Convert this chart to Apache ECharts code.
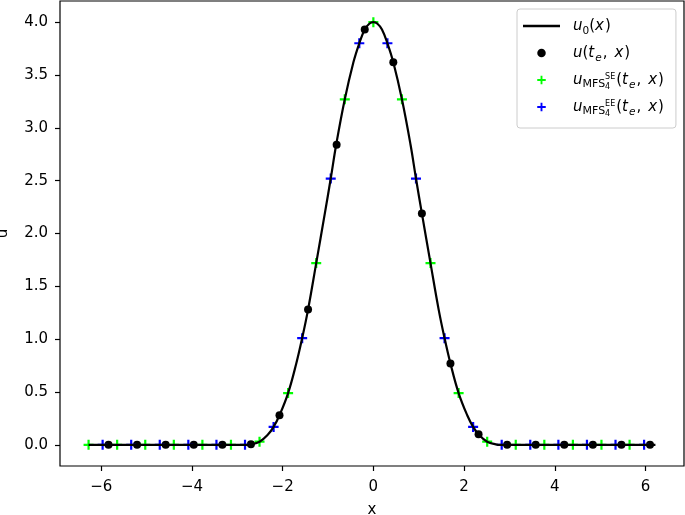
<!DOCTYPE html>
<html>
<head>
<meta charset="utf-8">
<script src="https://cdn.jsdelivr.net/npm/echarts@6/dist/echarts.min.js"></script>
<style>
  html, body { margin: 0; padding: 0; background: #fff; }
  #chart { width: 685px; height: 515px; }
</style>
</head>
<body>
<div id="chart"></div>
<script>
// u0(x)
const curveX = [-6.28, -3.14, -2.83, -2.70, -2.51, -2.32, -2.20, -2.07, -1.88, -1.70, -1.57, -1.44, -1.26, -1.07, -0.94, -0.82, -0.63, -0.44, -0.31, -0.19, -0.09, 0,
  0.09, 0.19, 0.31, 0.44, 0.63, 0.82, 0.94, 1.07, 1.26, 1.44, 1.57, 1.70, 1.88, 2.07, 2.20, 2.32, 2.51, 2.70, 2.83, 3.14, 6.22]
const curveY = [0, 0, 0, 0.005, 0.03, 0.10, 0.17, 0.28, 0.49, 0.77, 1.01, 1.28, 1.72, 2.19, 2.52, 2.84, 3.27, 3.62, 3.80, 3.93, 3.985, 4.0,
  3.985, 3.93, 3.80, 3.62, 3.27, 2.84, 2.52, 2.19, 1.72, 1.28, 1.01, 0.77, 0.49, 0.28, 0.17, 0.10, 0.03, 0.005, 0, 0, 0]

// u(t_e, x)
const exactX = [-5.84, -5.21, -4.58, -3.96, -3.33, -2.70, -2.07, -1.44, -0.81, -0.19, 0.44, 1.07, 1.70, 2.32, 2.95, 3.58, 4.21, 4.84, 5.47, 6.10]
const exactY = [0, 0, 0, 0, 0, 0.005, 0.28, 1.28, 2.84, 3.93, 3.62, 2.19, 0.77, 0.10, 0, 0, 0, 0, 0, 0]

// MFS_4^SE
const seX = [-6.28, -5.65, -5.03, -4.40, -3.77, -3.14, -2.51, -1.88, -1.26, -0.63, 0, 0.63, 1.26, 1.88, 2.51, 3.14, 3.77, 4.40, 5.03, 5.65]
const seY = [0, 0, 0, 0, 0, 0, 0.03, 0.49, 1.72, 3.27, 4.0, 3.27, 1.72, 0.49, 0.03, 0, 0, 0, 0, 0]

// MFS_4^EE
const eeX = [-5.97, -5.34, -4.71, -4.08, -3.46, -2.83, -2.20, -1.57, -0.94, -0.31, 0.31, 0.94, 1.57, 2.20, 2.83, 3.46, 4.08, 4.71, 5.34, 5.97]
const eeY = [0, 0, 0, 0, 0, 0, 0.17, 1.01, 2.52, 3.80, 3.80, 2.52, 1.01, 0.17, 0, 0, 0, 0, 0, 0]

const xTicks = [-6, -4, -2, 0, 2, 4, 6]
const yTicks = [0, 0.5, 1, 1.5, 2, 2.5, 3, 3.5, 4]

const FONT = 'DejaVu Sans'
const PLUS = 'path://M3.9,0H6.1V3.9H10V6.1H6.1V10H3.9V6.1H0V3.9H3.9Z'

function zip (xs, ys) {
  return xs.map((x, i) => [x, ys[i]])
}

const legendText = {
  u0: '{a|u}{s|0}{r|(}{i|x}{r|)}',
  u: '{a|u}{r|(}{i|t}{si|e}{c|,}{i|x}{r|)}',
  se: '{a|u}{sm|MFS}{dn|4}{up|SE}{r|(}{i|t}{si|e}{c|,}{i|x}{r|)}',
  ee: '{a|u}{sm|MFS}{dn|4}{up|EE}{r|(}{i|t}{si|e}{c|,}{i|x}{r|)}'
}

const chart = echarts.init(document.getElementById('chart'), null, { renderer: 'canvas' })

const option = {
  animation: false,
  textStyle: { fontFamily: FONT },
  grid: {
    left: 60,
    right: 1,
    top: 1,
    bottom: 49,
    outerBoundsMode: 'none',
    containLabel: false,
    show: true,
    borderColor: '#000',
    borderWidth: 1.2
  },
  legend: {
    orient: 'vertical',
    left: 517,
    top: 9,
    itemWidth: 37,
    itemHeight: 8.5,
    itemGap: 9,
    padding: [9.5, 12, 10.5, 6],
    selectedMode: false,
    backgroundColor: 'rgba(255,255,255,0.8)',
    borderColor: '#cccccc',
    borderWidth: 1,
    borderRadius: 3,
    data: [
      { name: 'u0', icon: 'path://M0,0H37V2.4H0Z' },
      { name: 'u', icon: 'circle' },
      { name: 'se', icon: PLUS },
      { name: 'ee', icon: PLUS }
    ],
    formatter: name => legendText[name],
    textStyle: {
      color: '#000',
      fontFamily: FONT,
      rich: {
        a: { fontFamily: FONT, fontSize: 15, fontStyle: 'italic', padding: [0, 0, 0, 8] },
        i: { fontFamily: FONT, fontSize: 15, fontStyle: 'italic', padding: [0, 1, 0, 0] },
        r: { fontFamily: FONT, fontSize: 15 },
        c: { fontFamily: FONT, fontSize: 15, padding: [0, 7, 0, 1] },
        s: { fontFamily: FONT, fontSize: 10.5, padding: [10, 0, 0, 0] },
        si: { fontFamily: FONT, fontSize: 10.5, fontStyle: 'italic', padding: [10, 0, 0, 0] },
        sm: { fontFamily: FONT, fontSize: 11, padding: [9, 0, 0, 0] },
        up: { fontFamily: FONT, fontSize: 8, padding: [0, 1, 7, 0] },
        dn: { fontFamily: FONT, fontSize: 8, padding: [13, 0, 0, 0], width: 0 }
      }
    }
  },
  xAxis: {
    type: 'value',
    min: -6.91,
    max: 6.85,
    name: 'x',
    nameLocation: 'middle',
    nameGap: 37,
    nameTextStyle: { color: '#000', fontFamily: FONT, fontSize: 15 },
    axisLine: { show: false, onZero: false },
    splitLine: { show: false },
    axisTick: {
      show: true,
      length: 5,
      customValues: xTicks,
      lineStyle: { color: '#000', width: 1.2 }
    },
    axisLabel: {
      customValues: xTicks,
      margin: 14,
      color: '#000',
      fontFamily: FONT,
      fontSize: 15,
      formatter: v => (v < 0 ? '\u2212' + Math.abs(v) : String(v))
    }
  },
  yAxis: {
    type: 'value',
    min: -0.2,
    max: 4.2,
    name: 'u',
    nameLocation: 'middle',
    nameRotate: 90,
    nameGap: 49,
    nameTextStyle: { color: '#000', fontFamily: FONT, fontSize: 15 },
    axisLine: { show: false, onZero: false },
    splitLine: { show: false },
    axisTick: {
      show: true,
      length: 5,
      customValues: yTicks,
      lineStyle: { color: '#000', width: 1.2 }
    },
    axisLabel: {
      customValues: yTicks,
      margin: 12,
      color: '#000',
      fontFamily: FONT,
      fontSize: 15,
      formatter: v => v.toFixed(1)
    }
  },
  series: [
    {
      name: 'u0',
      type: 'line',
      data: zip(curveX, curveY),
      symbol: 'none',
      smooth: 0.4,
      color: '#000',
      lineStyle: { color: '#000', width: 2.2 }
    },
    {
      name: 'u',
      type: 'scatter',
      data: zip(exactX, exactY),
      symbol: 'circle',
      symbolSize: 8,
      symbolKeepAspect: true,
      itemStyle: { color: '#000', opacity: 1 }
    },
    {
      name: 'se',
      type: 'scatter',
      data: zip(seX, seY),
      symbol: PLUS,
      symbolSize: 10,
      symbolKeepAspect: true,
      itemStyle: { color: '#00ff00', opacity: 1 }
    },
    {
      name: 'ee',
      type: 'scatter',
      data: zip(eeX, eeY),
      symbol: PLUS,
      symbolSize: 10,
      symbolKeepAspect: true,
      itemStyle: { color: '#0000ff', opacity: 1 }
    }
  ]
}

chart.setOption(option)
</script>
</body>
</html>
